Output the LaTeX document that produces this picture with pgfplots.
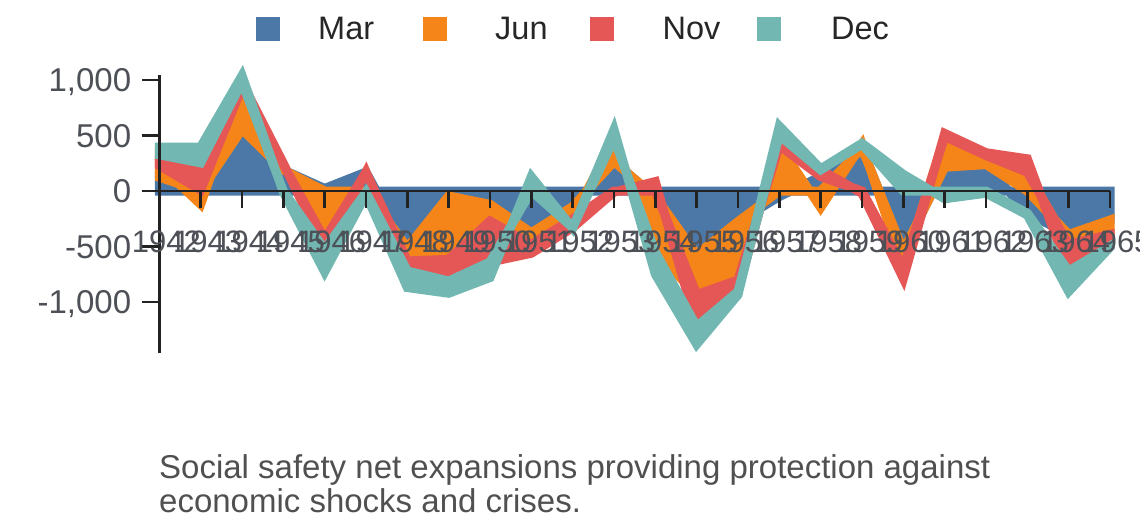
\documentclass[border=0pt]{standalone}
\usepackage{fontspec}
\setmainfont{Liberation Sans}
\usepackage{pgfplots}
\usepackage{pgfplotstable}
\pgfplotsset{compat=1.18}
\usepgfplotslibrary{fillbetween}
\definecolor{cMar}{HTML}{4C78A8}
\definecolor{cJun}{HTML}{F58518}
\definecolor{cNov}{HTML}{E45756}
\definecolor{cDec}{HTML}{72B7B2}
\definecolor{axisc}{HTML}{222222}
\definecolor{tickc}{HTML}{4D5056}
\definecolor{capc}{HTML}{505050}

\pgfplotstableread{
year Mar Jun Nov Dec
1942 124 105 97 70
1943 10 -120 243 143
1944 555 380 45 60
1945 190 50 10 -10
1946 23 -436 -90 -203
1947 170 -10 2 -20
1948 -510 -120 -90 -150
1949 -45 -571 -195 -110
1950 -120 -150 -370 -140
1951 -376 -105 -80 130
1952 -140 -110 -80 -5
1953 264 210 -10 80
1954 -50 -500 85 -200
1955 -572 -361 -287 -161
1956 -275 -527 -103 -30
1957 -50 410 90 85
1958 130 -150 60 10
1959 385 35 -20 10
1960 -540 -151 -97 150
1961 214 277 28 -70
1962 238 82 25 -20
1963 -200 169 121 -16
1964 -391 -90 -240 -185
1965 -262 -129 -106 -10
}\data

% diverging stack: positives stacked upward, negatives downward, in series order
\pgfplotstablecreatecol[create col/expr={0}]{s1}\data
\pgfplotstablecreatecol[create col/expr={\thisrow{Mar}}]{e1}\data
\pgfplotstablecreatecol[create col/expr={max(\thisrow{Mar},0)}]{p1}\data
\pgfplotstablecreatecol[create col/expr={min(\thisrow{Mar},0)}]{n1}\data
\pgfplotstablecreatecol[create col/expr={ifthenelse(\thisrow{Jun}<0,\thisrow{n1},\thisrow{p1})}]{s2}\data
\pgfplotstablecreatecol[create col/expr={\thisrow{s2}+\thisrow{Jun}}]{e2}\data
\pgfplotstablecreatecol[create col/expr={\thisrow{p1}+max(\thisrow{Jun},0)}]{p2}\data
\pgfplotstablecreatecol[create col/expr={\thisrow{n1}+min(\thisrow{Jun},0)}]{n2}\data
\pgfplotstablecreatecol[create col/expr={ifthenelse(\thisrow{Nov}<0,\thisrow{n2},\thisrow{p2})}]{s3}\data
\pgfplotstablecreatecol[create col/expr={\thisrow{s3}+\thisrow{Nov}}]{e3}\data
\pgfplotstablecreatecol[create col/expr={\thisrow{p2}+max(\thisrow{Nov},0)}]{p3}\data
\pgfplotstablecreatecol[create col/expr={\thisrow{n2}+min(\thisrow{Nov},0)}]{n3}\data
\pgfplotstablecreatecol[create col/expr={ifthenelse(\thisrow{Dec}<0,\thisrow{n3},\thisrow{p3})}]{s4}\data
\pgfplotstablecreatecol[create col/expr={\thisrow{s4}+\thisrow{Dec}}]{e4}\data

\newcommand\legfont{\fontsize{32.5}{39}\selectfont}
\newcommand\xtickfont{\fontsize{31}{37}\selectfont}
\newcommand\ytickfont{\fontsize{33}{39}\selectfont}
\newcommand\capfont{\fontsize{33}{39}\selectfont}

\begin{document}
\begin{tikzpicture}
\path (0,0) rectangle (1140pt,528pt);
\begin{axis}[
  at={(159.3pt,174.7pt)}, anchor=south west,
  scale only axis, width=950.7pt, height=278.3pt,
  xmin=1942, xmax=1965, ymin=-1462, ymax=1045,
  clip=false, set layers, axis on top,
  axis x line=middle, axis y line=left,
  hide obscured x ticks=false, hide obscured y ticks=false,
  x axis line style={-, line width=2.5pt, color=axisc},
  y axis line style={-, line width=2.5pt, color=axisc},
  xtick={1942,1943,1944,1945,1946,1947,1948,1949,1950,1951,1952,1953,1954,1955,1956,1957,1958,1959,1960,1961,1962,1963,1964,1965},
  xticklabels={1942,1943,1944,1945,1946,1947,1948,1949,1950,1951,1952,1953,1954,1955,1956,1957,1958,1959,1960,1961,1962,1963,1964,1965},
  ytick={-1000,-500,0,500,1000},
  yticklabels={{-1,000},{-500},{0},{500},{1,000}},
  tick align=outside, major tick length=17pt,
  tick style={line width=2.5pt, color=axisc},
  tick label style={text=tickc, inner sep=0pt, text depth=0pt},
  xticklabel style={font=\xtickfont, text height=22.2pt, anchor=north, yshift=-22pt, xshift=7pt},
  yticklabel style={font=\ytickfont, text height=23.6pt, anchor=east, xshift=-11pt},
  legend columns=-1,
  legend style={at={(0.1017,1.1653)}, anchor=west, draw=none, fill=none,
    inner sep=0pt, font=\legfont, text=black!85,
    /tikz/column sep=38pt, nodes={inner sep=0pt}},
  legend image code/.code={\fill[#1] (0pt,-12pt) rectangle (24pt,12pt);},
]
\addlegendimage{fill=cMar, draw=none}
\addlegendentry{\makebox[67pt][l]{Mar}}
\addlegendimage{fill=cJun, draw=none}
\addlegendentry{\makebox[67pt][l]{\hspace{10pt}Jun}}
\addlegendimage{fill=cNov, draw=none}
\addlegendentry{\makebox[67pt][l]{\hspace{10.5pt}Nov}}
\addlegendimage{fill=cDec, draw=none}
\addlegendentry{\makebox[67pt][l]{\hspace{12pt}Dec}}

\addplot[draw=none, forget plot, name path=s1] table[x=year, y=s1]{\data};
\addplot[draw=none, forget plot, name path=e1] table[x=year, y=e1]{\data};
\addplot[fill=cMar, draw=cMar, line width=9pt, line join=miter, forget plot] fill between[of=s1 and e1];

\addplot[draw=none, forget plot, name path=s2] table[x=year, y=s2]{\data};
\addplot[draw=none, forget plot, name path=e2] table[x=year, y=e2]{\data};
\addplot[fill=cJun, draw=cJun, line width=9pt, line join=miter, forget plot] fill between[of=s2 and e2];

\addplot[draw=none, forget plot, name path=s3] table[x=year, y=s3]{\data};
\addplot[draw=none, forget plot, name path=e3] table[x=year, y=e3]{\data};
\addplot[fill=cNov, draw=cNov, line width=9pt, line join=miter, forget plot] fill between[of=s3 and e3];

\addplot[draw=none, forget plot, name path=s4] table[x=year, y=s4]{\data};
\addplot[draw=none, forget plot, name path=e4] table[x=year, y=e4]{\data};
\addplot[fill=cDec, draw=cDec, line width=9pt, line join=miter, forget plot] fill between[of=s4 and e4];
\end{axis}
\node[anchor=base west, font=\capfont, text=capc, inner sep=0pt] at (159pt,50pt) {Social safety net expansions providing protection against};
\node[anchor=base west, font=\capfont, text=capc, inner sep=0pt] at (159pt,16pt) {economic shocks and crises.};
\pgfresetboundingbox
\path[use as bounding box] (0,0) rectangle (1140pt,528pt);
\end{tikzpicture}
\end{document}
